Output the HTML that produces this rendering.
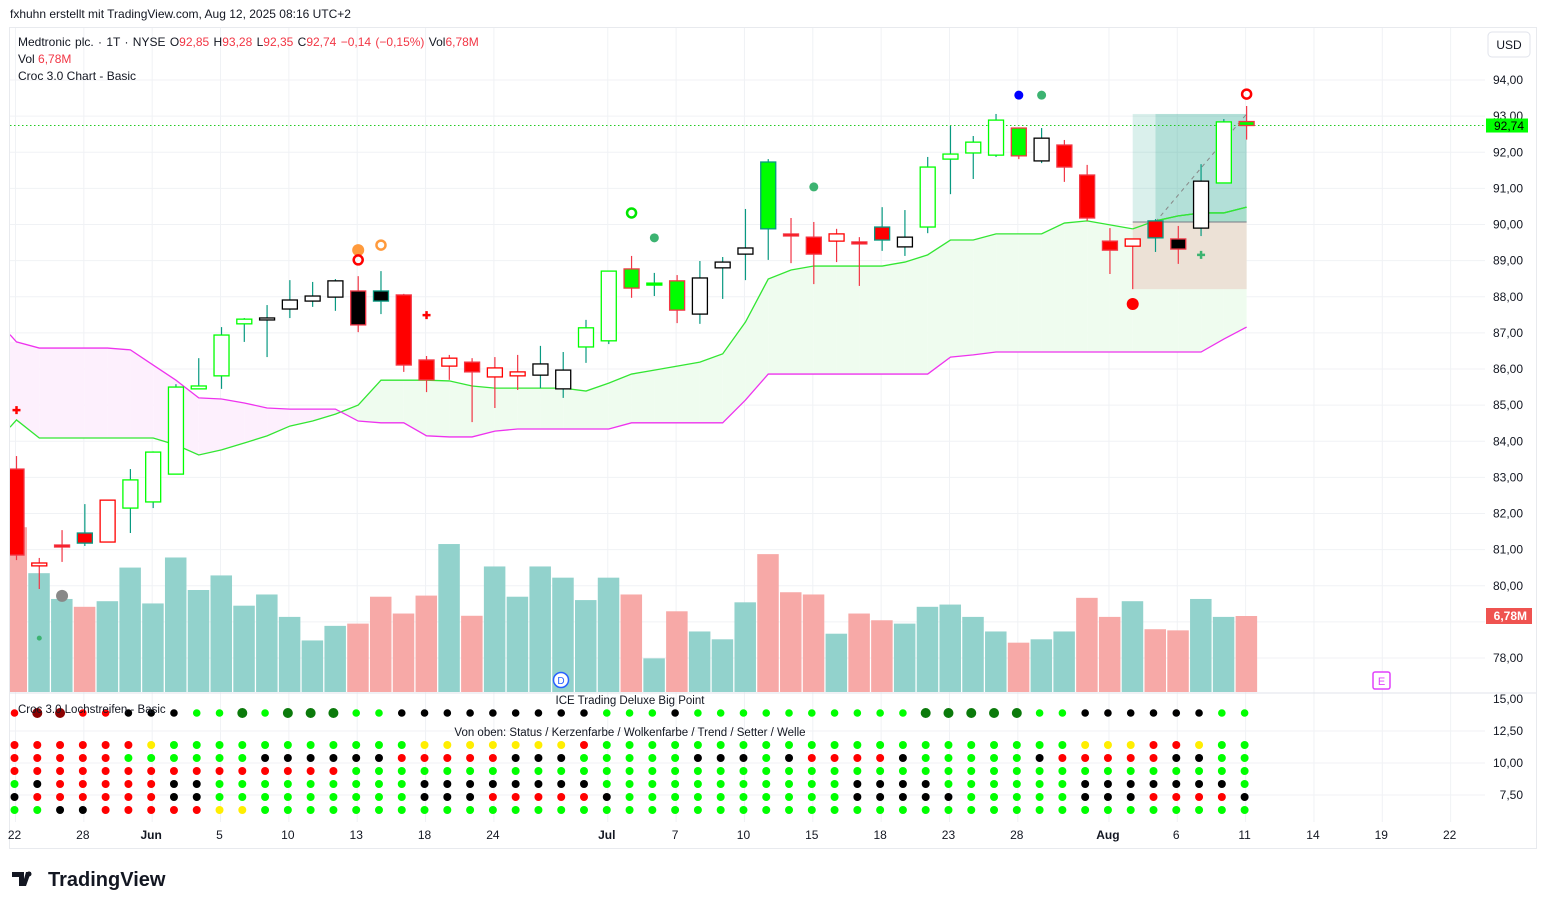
<!DOCTYPE html>
<html><head><meta charset="utf-8"><title>Medtronic chart</title>
<style>
html,body{margin:0;padding:0;background:#fff;}
svg{display:block;font-family:"Liberation Sans",sans-serif;}
</style></head>
<body>
<svg id="chart" width="1546" height="909" viewBox="0 0 1546 909" xmlns="http://www.w3.org/2000/svg">
<defs><clipPath id="plotClip"><rect x="10" y="28" width="1475" height="665"/></clipPath></defs>
<text x="10" y="18" font-size="12" fill="#131722">fxhuhn erstellt mit TradingView.com, Aug 12, 2025 08:16 UTC+2</text>
<rect x="9.5" y="27.5" width="1527" height="821" fill="#fff" stroke="#e8eaee"/>
<g id="grid"></g>
<g clip-path="url(#plotClip)">
<g id="cloud"></g>
<g id="volume"></g>
<g id="position"></g>
<g id="candles"></g>
<g id="markers"></g>
</g>
<g id="dots"></g>
<g id="axes"></g>
<g font-size="12" xml:space="preserve">
<text x="18" y="46" fill="#131722" word-spacing="1">Medtronic plc. · 1T · NYSE  <tspan fill="#131722">O</tspan><tspan fill="#f23645">92,85</tspan>  <tspan fill="#131722">H</tspan><tspan fill="#f23645">93,28</tspan>  <tspan fill="#131722">L</tspan><tspan fill="#f23645">92,35</tspan>  <tspan fill="#131722">C</tspan><tspan fill="#f23645">92,74  −0,14 (−0,15%)</tspan>  <tspan fill="#131722">Vol</tspan><tspan fill="#f23645">6,78M</tspan></text>
<text x="18" y="63" fill="#131722">Vol  <tspan fill="#f23645">6,78M</tspan></text>
<text x="18" y="80" fill="#131722">Croc 3.0 Chart - Basic</text>
</g>
<g><rect x="1488" y="32" width="42" height="25" rx="4" fill="#fff" stroke="#e0e3eb"/><text x="1509" y="49" font-size="12" text-anchor="middle" fill="#131722">USD</text></g>
<g font-size="11.5" fill="#131722">
<text x="18" y="713">Croc 3.0 Lochstreifen - Basic</text>
<text x="630" y="704" text-anchor="middle">ICE Trading Deluxe Big Point</text>
<text x="630" y="736" text-anchor="middle">Von oben: Status / Kerzenfarbe / Wolkenfarbe / Trend / Setter / Welle</text>
</g>
<g><circle cx="561" cy="680" r="7.5" fill="#fff" stroke="#2962ff" stroke-width="1.5"/><text x="561" y="684" font-size="10" text-anchor="middle" fill="#2962ff">D</text></g>
<g><rect x="1373" y="672" width="17" height="17" rx="2" fill="#fff" stroke="#e040fb" stroke-width="1.5"/><text x="1381.5" y="685" font-size="11" text-anchor="middle" fill="#e040fb">E</text></g>
<g>
<path d="M12 872h12v14h-5v-9h-7z M26 872h5l-5 14h-4z" fill="#131722"/><circle cx="29" cy="874" r="2.5" fill="#131722"/>
<text x="48" y="886" font-size="20" font-weight="bold" fill="#131722">TradingView</text></g>
</svg>
<script>
const openP=[83.23,80.63,81.12,81.18,82.37,82.15,82.32,83.09,85.45,85.81,87.25,87.36,87.66,87.88,87.99,88.16,87.88,88.05,86.25,86.30,86.19,86.03,85.92,85.83,85.45,86.61,86.78,88.77,88.35,88.44,87.52,88.80,89.18,89.88,89.71,89.65,89.74,89.49,89.57,89.38,89.93,91.81,91.98,91.92,92.67,91.76,92.20,91.37,89.54,89.60,89.63,89.60,89.90,91.15,92.85];
const highP=[83.59,80.77,81.54,82.26,82.37,83.23,83.72,85.58,86.30,87.16,87.41,87.77,88.46,88.41,88.49,88.57,88.71,88.08,86.36,86.39,86.30,86.33,86.39,86.64,86.47,87.36,88.71,89.13,88.66,88.60,88.99,89.10,90.43,91.81,90.18,90.07,89.88,89.65,90.48,90.40,91.87,92.73,92.45,93.06,92.67,92.67,92.34,91.65,89.90,89.60,90.15,89.96,91.67,92.92,93.28];
const lowP=[80.71,79.91,80.66,81.10,81.21,81.46,82.15,83.09,85.45,85.45,86.75,86.33,87.41,87.72,87.61,87.02,87.52,85.92,85.36,85.70,84.53,84.92,85.42,85.47,85.20,86.17,86.69,87.97,88.02,87.27,87.25,87.94,88.46,89.02,88.93,88.35,88.96,88.30,89.27,89.13,89.76,90.84,91.26,91.87,91.81,91.70,91.18,90.10,88.63,88.21,89.24,88.91,89.68,91.15,92.35];
const closeP=[80.85,80.55,81.08,81.46,81.21,82.93,83.70,85.50,85.53,86.94,87.38,87.41,87.91,88.02,88.44,87.22,88.16,86.11,85.70,86.08,85.92,85.78,85.81,86.14,85.97,87.14,88.71,88.24,88.35,87.63,88.52,88.96,89.35,91.73,89.71,89.18,89.54,89.49,89.93,89.65,91.59,91.95,92.28,92.89,91.90,92.39,91.59,90.18,89.29,89.40,90.10,89.32,91.20,92.84,92.74];
const candleStyle=["R","Rh","R","Rt","Rh","Gh","Gh","Gh","Gh","Gh","Gh","K","K","K","K","Kr","Kt","R","R","Rh","R","Rh","Rh","K","K","Gh","Gh","Gr","Gc","Gr","K","K","K","Gt","R","R","Rh","R","Rt","K","Gh","Gh","Gh","Gh","Gr","K","R","R","R","Rh","Rt","Kr","K","Gh","Gr"];
const volumeM=[14.7,10.6,8.3,7.6,8.1,11.1,7.9,12.0,9.1,10.4,7.7,8.7,6.7,4.6,5.9,6.1,8.5,7.0,8.6,13.2,6.8,11.2,8.5,11.2,10.2,8.2,10.2,8.7,3.0,7.2,5.4,4.7,8.0,12.3,8.9,8.7,5.2,7.0,6.4,6.1,7.6,7.8,6.7,5.4,4.4,4.7,5.4,8.4,6.7,8.1,5.6,5.5,8.3,6.7,6.78];
const volumeUp=[0,1,1,0,1,1,1,1,1,1,1,1,1,1,1,0,0,0,0,1,0,1,1,1,1,1,1,0,1,0,1,1,1,0,0,0,1,0,0,1,1,1,1,1,0,1,1,0,0,1,0,0,1,1,0];
const cloudGreen=[84.59,84.09,84.09,84.09,84.09,84.09,84.09,83.90,83.62,83.76,83.95,84.15,84.42,84.56,84.75,85.00,85.69,85.69,85.69,85.67,85.53,85.47,85.47,85.47,85.47,85.39,85.61,85.86,85.97,86.08,86.19,86.42,87.30,88.49,88.74,88.85,88.85,88.85,88.85,88.96,89.16,89.57,89.57,89.74,89.74,89.74,90.04,90.10,89.99,89.88,90.10,90.24,90.32,90.32,90.48];
const cloudMagenta=[86.75,86.58,86.58,86.58,86.58,86.53,86.11,85.69,85.20,85.17,85.06,84.92,84.89,84.89,84.89,84.56,84.51,84.51,84.15,84.12,84.12,84.28,84.34,84.34,84.34,84.34,84.34,84.51,84.51,84.51,84.51,84.51,85.14,85.86,85.86,85.86,85.86,85.86,85.86,85.86,85.86,86.33,86.39,86.47,86.47,86.47,86.47,86.47,86.47,86.47,86.47,86.47,86.47,86.83,87.16];
const priceTicks=[94,93,92,91,90,89,88,87,86,85,84,83,82,81,80,79,78];
const dateTickLabels=["22","28","Jun","5","10","13","18","24","Jul","7","10","15","18","23","28","Aug","6","11","14","19","22"];
const dateTickIndex=[0,3,6,9,12,15,18,21,26,29,32,35,38,41,44,48,51,54,57,60,63];
const markerIndex=[15,15,16,18,0,27,28,35,44,45,54,49,52,2,1];
const markerPrice=[89.29,89.02,89.43,87.49,84.86,90.32,89.63,91.04,93.58,93.58,93.61,87.80,89.16,79.72,78.55];
const markerType=["dotOrange","ringRed","ringOrange","crossRed","crossRed","ringGreen","dotGreen","dotGreen","dotBlue","dotGreen","ringRed","dotRed","crossGreen","dotGrey","dotTeal"];
const dotRow0="rRRrrkkkggGgGGGggkkkkkkkkkgg"+"gkggggggggggGGGGGggkkkkkkgg";
const dotRow1="rrrrrrygggggggggggyyyyyyyrggg".slice(0,28)+"gggggggggggggggggggyyyrrygg";
const dotRow2="rrrrrggggggkkkkkkrrrrrkkkggg"+"ggkkkgkrrrrkgggggkrrrrrkkgg";
const dotRow3="rrrrrrrrrrrrrrrggggggggggggg"+"ggggggggggggggggggggggggggg";
const dotRow4="gkrrrrrkkgggggggggkkkkkkkkgg"+"gggggggggkkkkggggggkkkkkkkg";
const dotRow5="krrrrrrkkgggggggggkkkrrrrrkg"+"gggggggggkkkkkgggggkkkrrrrk";
const dotRow6="ggkkrrrrryyggggggggggggggggg"+"ggggggggggggggggggggggggggg";
const indTicks=["15,00","12,50","10,00","7,50"];
const posTop=93.06, posEntry=90.07, posStop=88.21, posStart=49, posEnd=54;
const lastPrice=92.74, lastVolLabel="6,78M";

const NS="http://www.w3.org/2000/svg";
function el(tag,attrs,parent){const e=document.createElementNS(NS,tag);for(const k in attrs)e.setAttribute(k,attrs[k]);parent.appendChild(e);return e;}
const xOf=i=>16.5+i*22.78;
const yOf=p=>80+(94-p)*36.125;
const yVol=v=>692-v*(76/6.78);
const grid=document.getElementById('grid');
priceTicks.forEach(p=>{const l=el('line',{x1:10,x2:1485,y1:yOf(p),y2:yOf(p),stroke:'#f0f2f5'},grid);});
[731,763,795].forEach(y=>{const l=el('line',{x1:10,x2:1485,y1:y,y2:y,stroke:'#f0f2f5'},grid);});
dateTickIndex.forEach(i=>{const l=el('line',{x1:xOf(i)-1,x2:xOf(i)-1,y1:28,y2:822,stroke:'#f0f2f5'},grid);});
const pd=el('line',{x1:10,x2:1536,y1:693,y2:693,stroke:'#e0e3eb'},grid);


const cloud=document.getElementById('cloud');
for(let i=-1;i<cloudGreen.length-1;i++){
  const a=Math.max(i,0),b=i+1;
  const xa=i<0?10:xOf(a),xb=xOf(b);
  const g1=cloudGreen[a],g2=cloudGreen[b],m1=cloudMagenta[a],m2=cloudMagenta[b];
  const up=(g1+g2)>(m1+m2);
  const q=el('polygon',{points:`${xa},${yOf(g1)} ${xb},${yOf(g2)} ${xb},${yOf(m2)} ${xa},${yOf(m1)}`,fill:up?'#effcef':'#fdf0fd'},cloud);
  
  
}
function linePts(arr,d){return '10,'+yOf(arr[0]+d)+' '+arr.map((v,i)=>xOf(i)+','+yOf(v)).join(' ');}
const gl=el('polyline',{points:linePts(cloudGreen,-0.2),fill:'none',stroke:'#33e633','stroke-width':1.3},cloud);


const ml=el('polyline',{points:linePts(cloudMagenta,0.2),fill:'none',stroke:'#ee33ee','stroke-width':1.3},cloud);


const vg=document.getElementById('volume');
volumeM.forEach((v,i)=>{const y=yVol(v);const r=el('rect',{x:xOf(i)-11,y:y,width:21.5,height:692-y,fill:volumeUp[i]?'#92d2cc':'#f7a9a7'},vg);

});
const pg=document.getElementById('position');
const px1=xOf(posStart),px2=xOf(posEnd);
el('rect',{x:px1,y:yOf(posTop),width:px2-px1,height:yOf(posEntry)-yOf(posTop),fill:'rgba(8,153,129,0.15)'},pg);
el('rect',{x:xOf(posStart+1),y:yOf(posTop),width:px2-xOf(posStart+1),height:yOf(posEntry)-yOf(posTop),fill:'rgba(8,153,129,0.18)'},pg);
el('rect',{x:px1,y:yOf(posEntry),width:px2-px1,height:yOf(posStop)-yOf(posEntry),fill:'#ece1d6'},pg);
el('line',{x1:px1,x2:px2,y1:yOf(posEntry),y2:yOf(posEntry),stroke:'#787b86'},pg);
const gl2=el('polyline',{points:[49,50,51,52,53,54].map(i=>xOf(i)+','+yOf(cloudGreen[i])).join(' '),fill:'none',stroke:'#33e633','stroke-width':1.3},pg);


el('line',{x1:xOf(posStart+1),x2:px2,y1:yOf(posEntry),y2:yOf(posTop),stroke:'#888','stroke-dasharray':'4 4'},pg);
const lp=el('line',{x1:10,x2:1485,y1:yOf(lastPrice),y2:yOf(lastPrice),stroke:'#22cc22','stroke-dasharray':'1.5 2.5'},pg);


const styles={R:['#ff0000','#f23645','#f23645'],Rh:['#fff','#ff0000','#f23645'],Rt:['#ff0000','#089981','#089981'],Gh:['#fff','#00ff00','#089981'],Gr:['#00ff00','#f23645','#f23645'],Gt:['#00ff00','#089981','#089981'],Gc:['#00ff00','#00ff00','#089981'],K:['#fff','#000','#089981'],Kr:['#000','#f23645','#f23645'],Kt:['#000','#089981','#089981']};
const cg=document.getElementById('candles');
openP.forEach((o,i)=>{
  const s=styles[candleStyle[i]],x=xOf(i);
  const g=el('g',{},cg);
  
  
  el('line',{x1:x,x2:x,y1:yOf(highP[i]),y2:yOf(lowP[i]),stroke:s[2],'stroke-width':1.2},g);
  let t=yOf(Math.max(o,closeP[i])),b=yOf(Math.min(o,closeP[i]));
  if(b-t<2){const m=(t+b)/2;t=m-1;b=m+1;}
  el('rect',{x:x-7.5,y:t,width:15,height:b-t,fill:s[0],stroke:s[1],'stroke-width':1.3},g);
});
const mg=document.getElementById('markers');
const mcol={Orange:'#ff9a3c',Red:'#ff0000',Green:'#00e600',Blue:'#0000ff',Grey:'#888',Teal:'#3cb371'};
markerIndex.forEach((idx,k)=>{
  const t=markerType[k],x=xOf(idx),y=yOf(markerPrice[k]);let m;
  if(t.startsWith('dot')){let c=mcol[t.slice(3)];if(t==='dotGreen')c='#3cb371';const r=t==='dotTeal'?2.5:(t==='dotRed'||t==='dotGrey'||t==='dotOrange'?6:4.5);m=el('circle',{cx:x,cy:y,r:r,fill:c},mg);}
  else if(t.startsWith('ring')){m=el('circle',{cx:x,cy:y,r:4.5,fill:'none',stroke:mcol[t.slice(4)],'stroke-width':2.5},mg);}
  else{const c=t==='crossRed'?'#ff0000':'#3cb371';m=el('path',{d:`M${x-4},${y}h8M${x},${y-4}v8`,stroke:c,'stroke-width':2.5},mg);}
  
  
});
const dg=document.getElementById('dots');
const dcol={r:'#ff0000',R:'#8b0000',k:'#000',g:'#00ff00',G:'#0b7a0b',y:'#ffee00'};
const rows=[dotRow0,dotRow1,dotRow2,dotRow3,dotRow4,dotRow5,dotRow6];
const rowY=[713,745,758,771,784,797,810];
rows.forEach((row,r)=>{for(let i=0;i<row.length&&i<55;i++){const c=row[i];const rad=r===0?(c==='G'||c==='R'?5:3.8):4;
  const d=el('circle',{cx:xOf(i)-2,cy:rowY[r],r:rad,fill:dcol[c]},dg);
  
  }});
const ax=document.getElementById('axes');
priceTicks.forEach(p=>{if(p===79)return;const t=el('text',{x:1523,y:yOf(p)+4,'font-size':12,'text-anchor':'end',fill:'#131722'},ax);t.textContent=p.toFixed(2).replace('.',',');

});
[699,731,763,795].forEach((y,k)=>{const t=el('text',{x:1523,y:y+4,'font-size':12,'text-anchor':'end',fill:'#131722'},ax);t.textContent=indTicks[k];

});
dateTickIndex.forEach((i,k)=>{const t=el('text',{x:xOf(i)-2,y:839,'font-size':12,'text-anchor':'middle',fill:'#131722','font-weight':(dateTickLabels[k].length>2?'bold':'normal')},ax);t.textContent=dateTickLabels[k];

});
const lb=el('rect',{x:1486,y:yOf(lastPrice)-7,width:42,height:14,fill:'#00ff00'},ax);


const lt=el('text',{x:1524,y:yOf(lastPrice)+4.5,'font-size':12,'text-anchor':'end',fill:'#000'},ax);lt.textContent=lastPrice.toFixed(2).replace('.',',');


const vb=el('rect',{x:1486,y:608,width:46,height:16,fill:'#ef5350'},ax);


const vt=el('text',{x:1527,y:620,'font-size':12,'text-anchor':'end',fill:'#fff','font-weight':'bold'},ax);vt.textContent=lastVolLabel;


</script>
</body></html>
